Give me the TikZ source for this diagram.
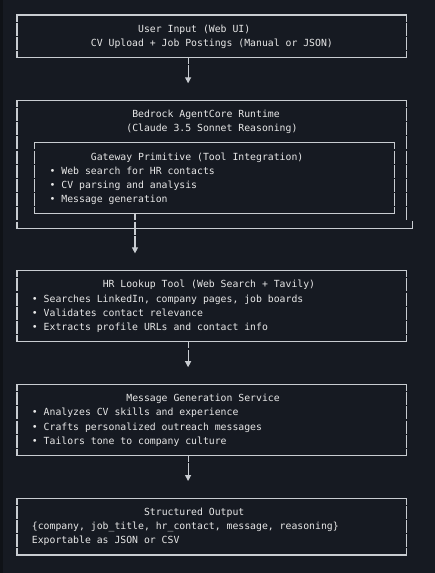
\documentclass[tikz,border=0pt]{standalone}
\usepackage{fontspec}
\setmonofont{DejaVu Sans Mono}
\usetikzlibrary{arrows.meta}
\definecolor{bgc}{HTML}{161A22}
\definecolor{edgec}{HTML}{0F1217}
\definecolor{linec}{HTML}{C8CCD1}
\definecolor{textc}{HTML}{E8E8E8}
\newcommand\asciibox[1]{%
  \draw[hline] (#1.north west) -- (#1.north east);
  \draw[hline] (#1.south west) -- (#1.south east);
  \draw[vline] (#1.north west) -- (#1.south west);
  \draw[vline] (#1.north east) -- (#1.south east);}
\begin{document}
\begin{tikzpicture}[x=1pt,y=1pt,
  boxarea/.style={rectangle, inner sep=0pt, outer sep=0pt, draw=none},
  hline/.style={draw=linec, line width=1.1pt, line cap=rect},
  vline/.style={draw=linec, line width=1.1pt, dash pattern=on 13.01pt off 1.2pt, dash phase=6.51pt},
  txt/.style={anchor=base west, inner sep=0pt, text=textc, font=\ttfamily\fontsize{9.8}{12}\selectfont},
  conn/.style={draw=linec, line width=1.1pt, dash pattern=on 13.01pt off 1.2pt, dash phase=6.51pt,
    -{Triangle[width=6pt,length=6pt,sep=6pt]}},
]
\fill[bgc] (0,0) rectangle (435,-573);
\fill[edgec] (0,0) rectangle (3,-573);
\useasboundingbox (0,0) rectangle (435,-573);

% boxes
\node[boxarea, minimum width=389.4pt, minimum height=42.63pt] (b1) at (211.7,-36.315) {};
\node[boxarea, minimum width=389.4pt, minimum height=127.89pt] (b2) at (211.7,-164.205) {};
\node[boxarea, minimum width=359.9pt, minimum height=71.05pt] (g) at (214.65,-178.415) {};
\node[boxarea, minimum width=389.4pt, minimum height=71.05pt] (b3) at (211.7,-306.305) {};
\node[boxarea, minimum width=389.4pt, minimum height=71.05pt] (b4) at (211.7,-419.985) {};
\node[boxarea, minimum width=389.4pt, minimum height=56.84pt] (b5) at (211.7,-526.56) {};

\asciibox{b1}
\asciibox{g}
\asciibox{b3}
\asciibox{b4}
\asciibox{b5}
% outer runtime box (misaligned right edge)
\coordinate (b2r) at (406.4,-221.05);
\coordinate (b2t) at (412.3,-221.05);
\draw[hline] (b2.north west) -- (b2.north east);
\draw[vline] (b2.north west) -- (b2.south west);
\draw[vline] (b2.north east) -- (b2r);
\draw[hline] (b2.south west) -- (b2t |- b2.south) -- (b2t);

% connectors
\coordinate (t1) at (188.1,-89.3);
\coordinate (t2) at (135,-259.4);
\coordinate (t3) at (188.1,-373.2);
\coordinate (t4) at (188.1,-487);
\draw[conn] (t1 |- b1.south) -- (t1);
\draw[conn] (t2 |- g.south) -- (t2);
\draw[conn] (t3 |- b3.south) -- (t3);
\draw[conn] (t4 |- b4.south) -- (t4);

% texts
\node[txt] (ui1) at (137.95,-32.21) {User Input (Web UI)};
\node[txt] (ui2) at (90.75,-46.42) {CV Upload + Job Postings (Manual or JSON)};
\node[txt] (rt1) at (132.05,-117.47) {Bedrock AgentCore Runtime};
\node[txt] (rt2) at (126.15,-131.68) {(Claude 3.5 Sonnet Reasoning)};
\node[txt] (gw) at (90.75,-160.1) {Gateway Primitive (Tool Integration)};
\node[txt] (gw1) at (49.45,-174.31) {• Web search for HR contacts};
\node[txt] (gw2) at (49.45,-188.52) {• CV parsing and analysis};
\node[txt] (gw3) at (49.45,-202.73) {• Message generation};
\node[txt] (hr) at (102.55,-287.99) {HR Lookup Tool (Web Search + Tavily)};
\node[txt] (hr1) at (31.75,-302.2) {• Searches LinkedIn, company pages, job boards};
\node[txt] (hr2) at (31.75,-316.41) {• Validates contact relevance};
\node[txt] (hr3) at (31.75,-330.62) {• Extracts profile URLs and contact info};
\node[txt] (mg) at (126.15,-401.67) {Message Generation Service};
\node[txt] (mg1) at (31.75,-415.88) {• Analyzes CV skills and experience};
\node[txt] (mg2) at (31.75,-430.09) {• Crafts personalized outreach messages};
\node[txt] (mg3) at (31.75,-444.3) {• Tailors tone to company culture};
\node[txt] (so) at (143.85,-515.35) {Structured Output};
\node[txt] (so1) at (31.75,-529.56) {\{company, job\_title, hr\_contact, message, reasoning\}};
\node[txt] (so2) at (31.75,-543.77) {Exportable as JSON or CSV};
\end{tikzpicture}
\end{document}
